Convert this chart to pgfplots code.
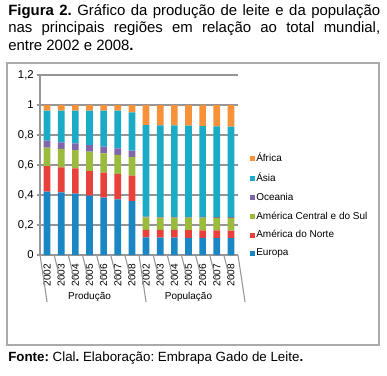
\documentclass[border=0pt]{standalone}
\usepackage{fontspec}
\setmainfont{Liberation Sans}
\usepackage{pgfplots}
\pgfplotsset{compat=1.18}
\usepackage{pgfplotstable}
\frenchspacing
\definecolor{ceur}{RGB}{27,134,196}
\definecolor{cna}{RGB}{232,65,60}
\definecolor{ccs}{RGB}{155,187,60}
\definecolor{coce}{RGB}{128,102,170}
\definecolor{casia}{RGB}{26,171,198}
\definecolor{cafr}{RGB}{247,146,58}
\definecolor{gridc}{RGB}{150,150,150}
\definecolor{framec}{RGB}{170,170,170}

\pgfplotstableread{
x  eur   na    cs    oce   asia  afr
0  0.422 0.171 0.123 0.046 0.200 0.038
1  0.417 0.167 0.123 0.044 0.211 0.038
2  0.410 0.168 0.122 0.044 0.218 0.038
3  0.396 0.164 0.129 0.044 0.229 0.038
4  0.382 0.167 0.129 0.044 0.240 0.038
5  0.371 0.169 0.127 0.044 0.251 0.038
6  0.360 0.169 0.124 0.043 0.255 0.049
7  0.117 0.051 0.083 0.005 0.610 0.134
8  0.116 0.051 0.083 0.005 0.610 0.135
9  0.116 0.051 0.083 0.005 0.609 0.136
10 0.115 0.051 0.083 0.005 0.608 0.138
11 0.114 0.051 0.084 0.005 0.606 0.140
12 0.113 0.051 0.084 0.005 0.605 0.142
13 0.112 0.051 0.084 0.005 0.604 0.144
}\datatable

\begin{document}
\frenchspacing
\begin{tikzpicture}
\useasboundingbox (0,0) rectangle (290.25pt,282pt);
\fill[white] (0,0) rectangle (290.25pt,282pt);
% title
\node[anchor=north west, inner sep=0pt, text width=279pt, align=justify,
      font=\fontsize{11.2}{13.1}\selectfont] at (6pt,279pt)
  {\frenchspacing\textbf{Figura 2.} Gráfico da produção de leite e da população\linebreak
   nas principais regiões em relação ao total mundial,\linebreak
   entre 2002 e 2008\textbf{.}};
% frame
\draw[framec, line width=0.8pt] (5.25pt,23.25pt) rectangle (284.25pt,234.75pt);
% source
\node[anchor=base west, inner sep=0pt, font=\fontsize{10}{12}\selectfont] at (6pt,10.5pt)
  {\frenchspacing\textbf{Fonte:} Clal\textbf{.} Elaboração: Embrapa Gado de Leite\textbf{.}};

\begin{axis}[
  at={(30pt,90.75pt)}, anchor=south west,
  scale only axis, width=148.5pt, height=135pt,
  ybar stacked, bar width=5pt,
  xmin=-0.5, xmax=13.5, ymin=0, ymax=1.2,
  ytick={0,0.2,...,1.2},
  yticklabel style={/pgf/number format/use comma, /pgf/number format/assume math mode=true,
     font=\fontsize{8.5}{10}\selectfont, inner xsep=2pt},
  xtick={0,...,13},
  xticklabels={2002,2003,2004,2005,2006,2007,2008,2002,2003,2004,2005,2006,2007,2008},
  xticklabel style={rotate=90, anchor=east, inner xsep=4pt, inner ysep=0pt,
     font=\fontsize{7.6}{9}\selectfont},
  xtick style={draw=none},
  ytick style={draw=gridc, line width=0.8pt},
  tick align=outside, major tick length=2.5pt,
  axis lines*=left,
  axis line style={draw=gridc, line width=0.8pt},
  ymajorgrids, grid style={draw=gridc, line width=0.8pt},
  clip=false,
  reverse legend,
  legend cell align=left,
  legend style={at={(1.06,0.275)}, anchor=west, draw=none, fill=none,
     font=\fontsize{7.5}{9}\selectfont, inner sep=0pt, row sep=5pt,
     nodes={inner sep=1pt}},
  legend image code/.code={\fill[#1] (0pt,-1.9pt) rectangle (3.6pt,1.9pt);},
]
\addplot[fill=ceur, draw=none] table[x=x, y=eur] {\datatable};
\addplot[fill=cna, draw=none] table[x=x, y=na] {\datatable};
\addplot[fill=ccs, draw=none] table[x=x, y=cs] {\datatable};
\addplot[fill=coce, draw=none] table[x=x, y=oce] {\datatable};
\addplot[fill=casia, draw=none] table[x=x, y=asia] {\datatable};
\addplot[fill=cafr, draw=none] table[x=x, y=afr] {\datatable};
\legend{Europa, América do Norte, América Central e do Sul, Oceania, Ásia, África}

\pgfplotsinvokeforeach{0.5,1.5,2.5,3.5,4.5,5.5,7.5,8.5,9.5,10.5,11.5,12.5}{
  \draw[gridc, line width=0.8pt] (axis cs:#1,0) -- ++(0,-21pt);
}
\pgfplotsinvokeforeach{-0.5,6.5,13.5}{
  \draw[gridc, line width=0.8pt] (axis cs:#1,0) -- ++(0,-35.25pt);
}
\node[font=\fontsize{7.5}{9}\selectfont, inner sep=0pt] at ([yshift=-31.5pt]axis cs:3,0) {Produção};
\node[font=\fontsize{7.5}{9}\selectfont, inner sep=0pt] at ([yshift=-31.5pt]axis cs:10,0) {População};
\end{axis}
\end{tikzpicture}
\end{document}
